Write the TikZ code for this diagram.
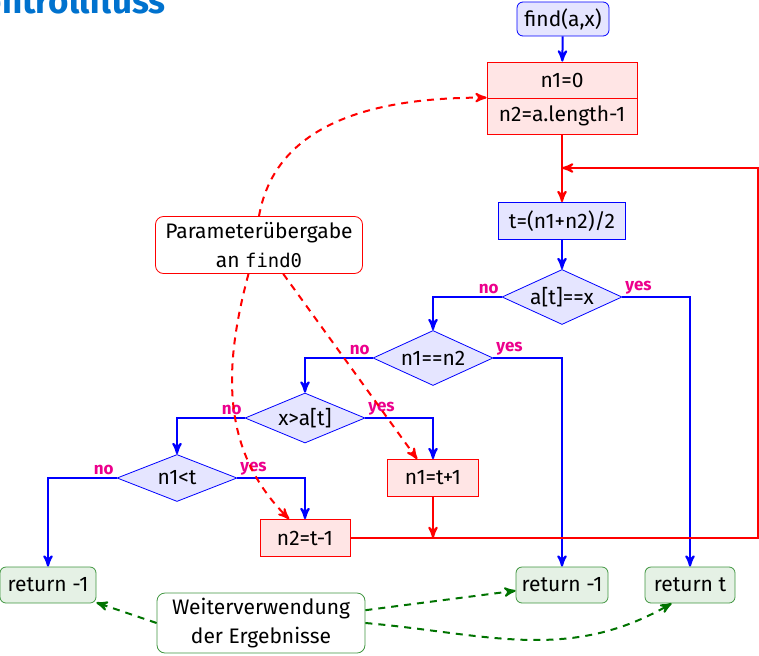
\documentclass[tikz,border=0pt]{standalone}
\usepackage{fontspec}
\setmainfont{Fira Sans}
\setsansfont{Fira Sans}
\setmonofont[Scale=0.9]{DejaVu Sans Mono}
\usetikzlibrary{shapes,arrows,positioning}
\definecolor{titleblue}{RGB}{0,114,206}
\colorlet{flowgreen}{green!45!black}

\begin{document}
\begin{tikzpicture}[
  x=0.5pt, y=0.5pt,
  startbox/.style={draw=blue, fill=blue!10, rounded corners=3pt, minimum width=46pt,
               minimum height=17pt, inner sep=2pt},
  calcbox/.style={draw=blue, fill=blue!10, minimum height=18.5pt, inner sep=2pt},
  updbox/.style={draw=red, fill=red!10, minimum height=18pt, inner sep=2pt},
  retbox/.style={draw=flowgreen!75, fill=flowgreen!10, rounded corners=3pt,
               minimum height=18pt, inner sep=2pt},
  dec/.style={draw=blue, fill=blue!10, diamond, aspect=2.4, inner sep=0pt,
              minimum width=60pt},
  note/.style={draw, fill=white, rounded corners=4pt, align=center, inner sep=2pt},
  flow/.style={-stealth', line width=1pt, blue},
  back/.style={-stealth', line width=1pt, red},
  hint/.style={-stealth', line width=1pt, dash pattern=on 3.5pt off 3pt},
  nolbl/.style={anchor=south east, inner sep=1pt, text=magenta,
                font=\sffamily\bfseries\fontsize{8.5}{9}\selectfont},
  yeslbl/.style={nolbl, anchor=south west},
  font=\sffamily\fontsize{10.5}{14.5}\selectfont
]
\useasboundingbox (0,0) rectangle (759,655);

\node[anchor=base east, text=titleblue, inner sep=0pt,
      font=\sffamily\bfseries\fontsize{17.5}{19}\selectfont] (title) at (166,641) {Kontrollfluss};

\node[startbox] (start) at (563,636) {find(a,x)};
\node[updbox, minimum width=75pt] (n1init) at (562,575) {n1=0};
\node[updbox, minimum width=75pt] (n2init) at (562,539) {n2=a.length-1};
\node[calcbox, minimum width=63.5pt] (calc) at (562,434) {t=(n1+n2)/2};
\node[dec, minimum height=27.5pt] (d1) at (562,358) {a[t]==x};
\node[dec, minimum height=27.5pt] (d2) at (433,297) {n1==n2};
\node[dec, minimum height=25pt]   (d3) at (305,237) {x>a[t]};
\node[dec, minimum height=23.5pt] (d4) at (177,177) {n1<t};
\node[updbox, minimum width=45.5pt, minimum height=18.5pt] (inc) at (433,177) {n1=t+1};
\node[updbox, minimum width=45pt, minimum height=18.5pt]   (decr) at (305,117) {n2=t-1};
\node[retbox, minimum width=48pt] (ret1) at (48,70)  {return -1};
\node[retbox, minimum width=46pt] (ret2) at (562,70) {return -1};
\node[retbox, minimum width=45pt] (ret3) at (690,70) {return t};
\node[note, draw=red, minimum width=103.5pt, minimum height=28.5pt] (param) at (259,410)
  {Parameterübergabe\\an \texttt{find0}};
\node[note, draw=flowgreen!75, minimum width=104pt, minimum height=30pt] (reuse) at (261,32)
  {Weiterverwendung\\der Ergebnisse};

\coordinate (loopcorner) at (758,487);
\coordinate (merge)      at (562,487);

% main flow
\draw[flow] (start) -- (n1init);
\draw[back] (n2init) -- (calc);
\draw[flow] (calc) -- (d1);
\draw[flow] (d1.west) node[nolbl]{no}  -| (d2.north);
\draw[flow] (d1.east) node[yeslbl]{yes} -| (ret3.north);
\draw[flow] (d2.west) node[nolbl]{no}  -| (d3.north);
\draw[flow] (d2.east) node[yeslbl]{yes} -| (ret2.north);
\draw[flow] (d3.west) node[nolbl]{no}  -| (d4.north);
\draw[flow] (d3.east) node[yeslbl]{yes} -| (inc.north);
\draw[flow] (d4.west) node[nolbl]{no}  -| (ret1.north);
\draw[flow] (d4.east) node[yeslbl]{yes} -| (decr.north);

% loop back
\draw[back] (inc.south) -- (inc.south |- decr.east);
\draw[back] (decr.east) -| (loopcorner) -- (merge);

% hints
\draw[hint, red] (param.north) to[out=80, in=180] (n2init.north west);
\draw[hint, red] (param.250) to[out=-105, in=135] (decr.130);
\draw[hint, red] (param.310) -- (inc.130);
\draw[hint, flowgreen] (reuse.west) -- (ret1.-20);
\draw[hint, flowgreen] (reuse.7) -- (ret2.-173);
\draw[hint, flowgreen] (reuse.east) to[out=-5, in=-150] (ret3.-135);

\end{tikzpicture}
\end{document}
